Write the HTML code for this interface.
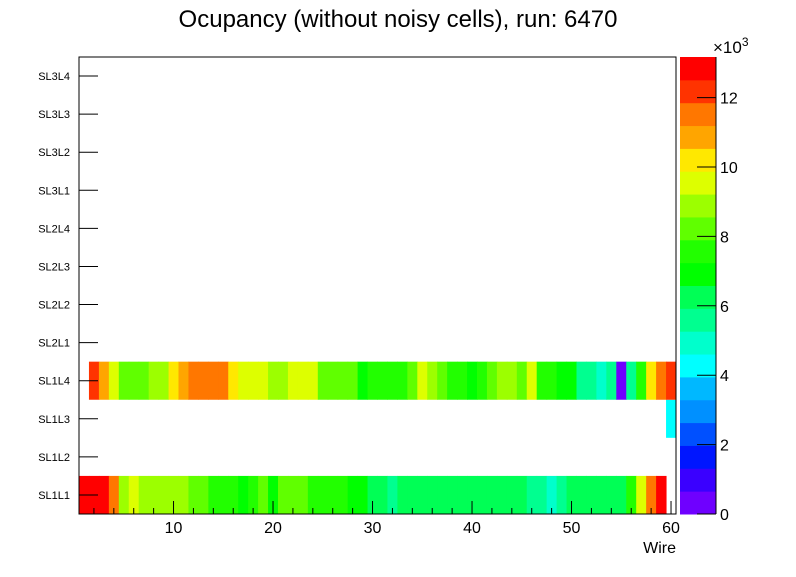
<!DOCTYPE html>
<html><head><meta charset="utf-8"><style>
body{margin:0;background:#fff}
svg text{font-family:"Liberation Sans",sans-serif}
</style></head><body>
<svg width="796" height="572" xmlns="http://www.w3.org/2000/svg">
<rect width="796" height="572" fill="#fff"/>
<text x="398" y="27" font-size="24" text-anchor="middle">Ocupancy (without noisy cells), run: 6470</text>
<g id="cells"></g>
<g id="axes"></g>
<g id="palette"></g>
</svg>
<script>
const layers = ["SL1L1","SL1L2","SL1L3","SL1L4","SL2L1","SL2L2","SL2L3","SL2L4","SL3L1","SL3L2","SL3L3","SL3L4"];
const xTicks = [10,20,30,40,50,60];
const zTicks = [0,2,4,6,8,10,12];
// occupancy values (counts) per wire 1..60; null = empty
const sl1l1 = [12840,12840,12840,11525,8890,9550,8890,8890,8890,8890,8890,8230,8230,7575,7575,7575,6915,7575,8230,6915,8230,8230,8230,7575,7575,7575,7575,6915,6915,6255,6255,5600,6255,6255,6255,6255,6255,6255,6255,6255,6255,6255,6255,6255,6255,5600,5600,4940,5600,6255,6255,6255,6255,6255,6255,7575,9550,11525,12840,null];
const sl1l3 = [null,null,null,null,null,null,null,null,null,null,null,null,null,null,null,null,null,null,null,null,null,null,null,null,null,null,null,null,null,null,null,null,null,null,null,null,null,null,null,null,null,null,null,null,null,null,null,null,null,null,null,null,null,null,null,null,null,null,null,4280];
const sl1l4 = [null,12180,10865,9550,8230,8230,8230,8890,8890,10210,10865,11525,11525,11525,11525,10210,9550,9550,9550,8890,8890,9550,9550,9550,8230,8230,8230,8230,6915,7575,7575,7575,7575,8230,9550,8890,8230,7575,7575,6915,7575,8230,8890,8890,8230,9550,7575,7575,6915,6915,5600,5600,4940,5600,330,5600,7575,10210,11525,12180];
const rows = {0:sl1l1, 2:sl1l3, 3:sl1l4};
const zMax = 13170;
const colors = ["#6f00ff","#3a00ff","#0016ff","#0050ff","#0090ff","#00b8ff","#00ffff","#00ffcc","#00ff90","#00ff55","#00ff00","#22ff00","#60ff00","#9cff00","#ddff00","#ffe800","#ffa500","#ff7700","#ff3300","#ff0000"];
const NS="http://www.w3.org/2000/svg";
const L=79,R=676,T=57,B=514;
const xS=v=>L+(v-0.5)*(R-L)/60;
const rowH=(B-T)/12;
const yTop=i=>B-(i+1)*rowH;
const zS=v=>B-v*(B-T)/zMax;
function colorFor(v){let k=Math.floor(v/zMax*20);return colors[Math.max(0,Math.min(19,k))];}
function mk(tag,attrs,parent){const e=document.createElementNS(NS,tag);for(const k in attrs)e.setAttribute(k,attrs[k]);parent.appendChild(e);return e;}
const cells=document.getElementById('cells');
for(const r in rows){rows[r].forEach((v,j)=>{if(v===null)return;
 const e=mk('rect',{x:xS(j+0.5),y:yTop(+r),width:(R-L)/60+0.5,height:rowH,fill:colorFor(v)},cells);
 
 });}
const ax=document.getElementById('axes');
const frame=mk('rect',{x:L,y:T,width:R-L,height:B-T,fill:'none',stroke:'#000','stroke-width':1},ax);

layers.forEach((n,i)=>{const yc=yTop(i)+rowH/2;
 mk('line',{x1:L,x2:L+19,y1:yc,y2:yc,stroke:'#000'},ax);
 const t=mk('text',{x:70,y:yc+4,'font-size':11,'text-anchor':'end'},ax);t.textContent=n;
 });
for(let v=2;v<=60;v+=2){const x=xS(v);const major=v%10===0;
 mk('line',{x1:x,x2:x,y1:B,y2:B-(major?13:6),stroke:'#000'},ax);}
xTicks.forEach(v=>{const t=mk('text',{x:xS(v),y:533,'font-size':16,'text-anchor':'middle'},ax);t.textContent=v;
 });
const wt=mk('text',{x:676,y:553,'font-size':16,'text-anchor':'end'},ax);wt.textContent='Wire';

const pal=document.getElementById('palette');
colors.forEach((c,k)=>{const y1=zS((k+1)*zMax/20),y0=zS(k*zMax/20);
 const e=mk('rect',{x:680,y:y1,width:36,height:y0-y1+0.5,fill:c},pal);
 });
mk('line',{x1:716,x2:716,y1:T,y2:B,stroke:'#000'},pal);
zTicks.forEach(v=>{const y=zS(v*1000);mk('line',{x1:697,x2:716,y1:y,y2:y,stroke:'#000'},pal);
 const t=mk('text',{x:720,y:y+6,'font-size':16},pal);t.textContent=v;
 });
const ex=mk('text',{x:713,y:53,'font-size':17},pal);ex.innerHTML='×10<tspan dy="-7" font-size="12">3</tspan>';

</script>
</body></html>
